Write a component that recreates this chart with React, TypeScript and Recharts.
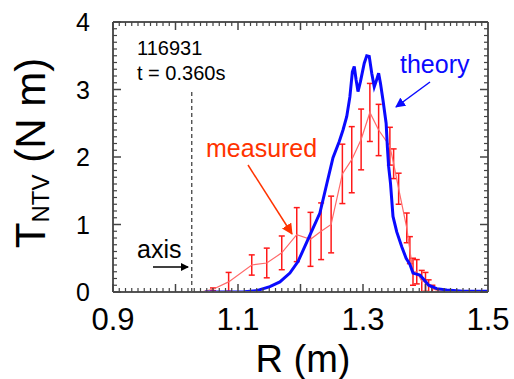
import { ErrorBar, Line, LineChart, ReferenceLine, XAxis, YAxis } from "recharts";

// theory NTV torque profile
const THEORY_R = [
  1.047, 1.08, 1.11, 1.13, 1.151, 1.167, 1.183, 1.196, 1.212, 1.231, 1.242, 1.252, 1.262, 1.268,
  1.274, 1.279, 1.283, 1.286, 1.289, 1.292, 1.296, 1.302, 1.306, 1.31, 1.314, 1.318, 1.321, 1.325,
  1.328, 1.332, 1.337, 1.339, 1.341, 1.344, 1.348, 1.354, 1.362, 1.369, 1.375, 1.38, 1.391, 1.396,
  1.405, 1.418, 1.434, 1.46, 1.5,
];
const THEORY_T = [
  0, 0, 0.005, 0.02, 0.08, 0.15, 0.28, 0.45, 0.78, 1.17, 1.6, 1.99, 2.23, 2.4,
  2.6, 2.89, 3.26, 3.34, 3.14, 2.97, 3.12, 3.39, 3.5, 3.49, 3.24, 3.04, 3.12, 3.24,
  3.09, 2.84, 2.5, 2.15, 1.86, 1.61, 1.12, 0.89, 0.67, 0.5, 0.41, 0.28, 0.25, 0.2,
  0.1, 0.05, 0.03, 0.01, 0.01,
];

// measured profile with error bars
const MEAS_R = [
  1.04, 1.06, 1.085, 1.122, 1.146, 1.17, 1.194, 1.216, 1.233, 1.249, 1.267, 1.282, 1.297, 1.311,
  1.325, 1.343, 1.349, 1.357, 1.37, 1.375, 1.38, 1.386, 1.394, 1.4, 1.405, 1.411, 1.42, 1.44,
];
const MEAS_T = [
  0, 0.04, 0.15, 0.4, 0.43, 0.58, 0.85, 0.78, 0.9, 1.0, 1.75, 1.96, 2.26, 2.66,
  2.4, 2.16, 1.9, 1.53, 0.95, 0.62, 0.3, 0.3, 0.16, 0.15, 0.09, 0.05, 0.02, 0,
];
const MEAS_ERR = [
  0, 0.02, 0.14, 0.15, 0.22, 0.25, 0.4, 0.4, 0.42, 0.42, 0.44, 0.49, 0.45, 0.43,
  0.38, 0.28, 0.22, 0.23, 0.22, 0.2, 0.2, 0.18, 0.16, 0.14, 0.09, 0.05, 0.02, 0,
];

const MAG_AXIS_R = 1.026;
const X_MAJOR = [0.9, 1.0, 1.1, 1.2, 1.3, 1.4, 1.5];
const X_LABELS = ["0.9", "1.1", "1.3", "1.5"];
const Y_MAJOR = [0, 1, 2, 3, 4];
const X_MINOR_PER = 10;
const Y_MINOR_PER = 10;

const theory = THEORY_R.map((r, i) => ({ r, t: THEORY_T[i] }));
const measured = MEAS_R.map((r, i) => ({ r, t: MEAS_T[i], err: MEAS_ERR[i] }));

const FONT = "'Liberation Sans', Arial, sans-serif";
const FRAME = "#555";
const TICK = "#444";
const MARGIN = { top: 22, right: 26, bottom: 47, left: 53 };
const Y_AXIS_W = 60;
const X_AXIS_H = 40;
const PLOT_W = 514 - MARGIN.left - MARGIN.right - Y_AXIS_W;
const PLOT_H = 379 - MARGIN.top - MARGIN.bottom - X_AXIS_H;

// bottom axis tick: major + minor ticks, mirrored on the top frame
const XTick = (p: any) => {
  const { x, y, payload, index } = p;
  const step = PLOT_W / (X_MAJOR.length - 1) / X_MINOR_PER;
  const top = y - PLOT_H;
  const v = Number(payload.value).toFixed(1);
  const minors = [];
  if (index < X_MAJOR.length - 1) {
    for (let k = 1; k < X_MINOR_PER; k++) {
      const xx = x + k * step;
      minors.push(<line key={"b" + k} x1={xx} y1={y} x2={xx} y2={y - 4} stroke={TICK} strokeWidth={1.2} />);
      minors.push(<line key={"t" + k} x1={xx} y1={top} x2={xx} y2={top + 4} stroke={TICK} strokeWidth={1.2} />);
    }
  }
  return (
    <g>
      {index === 0 && <line x1={x} y1={top} x2={x + PLOT_W} y2={top} stroke={FRAME} strokeWidth={2} />}
      <line x1={x} y1={y} x2={x} y2={y - 8} stroke={TICK} strokeWidth={1.5} />
      <line x1={x} y1={top} x2={x} y2={top + 8} stroke={TICK} strokeWidth={1.5} />
      {minors}
      {X_LABELS.includes(v) && (
        <text x={x} y={y + 38} textAnchor="middle" fontSize={31} fontFamily={FONT} fill="#000">{v}</text>
      )}
    </g>
  );
};

// left axis tick: major + minor ticks, mirrored on the right frame
const YTick = (p: any) => {
  const { x, y, payload, index } = p;
  const step = PLOT_H / (Y_MAJOR.length - 1) / Y_MINOR_PER;
  const right = x + PLOT_W;
  const minors = [];
  if (index < Y_MAJOR.length - 1) {
    for (let k = 1; k < Y_MINOR_PER; k++) {
      const yy = y - k * step;
      minors.push(<line key={"l" + k} x1={x} y1={yy} x2={x + 4} y2={yy} stroke={TICK} strokeWidth={1.2} />);
      minors.push(<line key={"r" + k} x1={right} y1={yy} x2={right - 4} y2={yy} stroke={TICK} strokeWidth={1.2} />);
    }
  }
  return (
    <g>
      {index === 0 && <line x1={right} y1={y} x2={right} y2={y - PLOT_H} stroke={FRAME} strokeWidth={2} />}
      <line x1={x} y1={y} x2={x + 8} y2={y} stroke={TICK} strokeWidth={1.5} />
      <line x1={right} y1={y} x2={right - 8} y2={y} stroke={TICK} strokeWidth={1.5} />
      {minors}
      <text x={x - 23} y={y + 9} textAnchor="end" fontSize={25} fontFamily={FONT} fill="#000">
        {String(payload.value)}
      </text>
    </g>
  );
};

export default function App() {
  return (
    <div style={{ position: "absolute", left: 0, top: 0, width: 514, height: 379 }}>
      <LineChart width={514} height={379} margin={MARGIN}>
        <XAxis xAxisId="x" type="number" dataKey="r" domain={[0.9, 1.5]} ticks={X_MAJOR} interval={0}
          height={X_AXIS_H} tickSize={0} tickMargin={0} tickLine={false}
          axisLine={{ stroke: FRAME, strokeWidth: 2 }} tick={XTick} allowDataOverflow />
        <YAxis yAxisId="y" type="number" domain={[0, 4]} ticks={Y_MAJOR} interval={0} width={Y_AXIS_W}
          tickSize={0} tickMargin={0} tickLine={false}
          axisLine={{ stroke: FRAME, strokeWidth: 2 }} tick={YTick} allowDataOverflow />

        <ReferenceLine xAxisId="x" yAxisId="y" segment={[{ x: MAG_AXIS_R, y: 0 }, { x: MAG_AXIS_R, y: 3 }]}
          stroke="#444" strokeWidth={1.3} strokeDasharray="4 3" />

        <Line xAxisId="x" yAxisId="y" data={measured} dataKey="t" type="linear" dot={false}
          stroke="#ff6a6a" strokeWidth={1.2} isAnimationActive={false}>
          <ErrorBar dataKey="err" direction="y" width={3} stroke="#ff1a1a" strokeWidth={1.5} />
        </Line>
        <Line xAxisId="x" yAxisId="y" data={theory} dataKey="t" type="linear" dot={false}
          stroke="#0a0aff" strokeWidth={3} isAnimationActive={false} />
      </LineChart>

      <svg width={514} height={379} style={{ position: "absolute", left: 0, top: 0, pointerEvents: "none" }}
        fontFamily={FONT}>
        <defs>
          <marker id="ahBlack" markerWidth="8" markerHeight="8" refX="7" refY="4" orient="auto" markerUnits="userSpaceOnUse">
            <path d="M0,0 L8,4 L0,8 z" fill="#000" />
          </marker>
          <marker id="ahBlue" markerWidth="10" markerHeight="10" refX="9" refY="5" orient="auto" markerUnits="userSpaceOnUse">
            <path d="M0,0 L10,5 L0,10 z" fill="#0a0aff" />
          </marker>
          <marker id="ahRed" markerWidth="11" markerHeight="11" refX="10" refY="5.5" orient="auto" markerUnits="userSpaceOnUse">
            <path d="M0,0 L11,5.5 L0,11 z" fill="#ff3300" />
          </marker>
        </defs>

        <text transform="translate(45,153) rotate(-90)" textAnchor="middle" fontSize={42} fill="#000">
          T<tspan fontSize={24} dy={4}>NTV</tspan>
          <tspan dy={-4}> (N m)</tspan>
        </text>
        <text x={303} y={372} textAnchor="middle" fontSize={38} fill="#000">R (m)</text>

        <text x={137} y={55} fontSize={20} fill="#000">116931</text>
        <text x={137} y={80} fontSize={20} fill="#000">t = 0.360s</text>

        <text x={400} y={73} fontSize={25} fill="#0a0aff">theory</text>
        <line x1={430} y1={82} x2={396} y2={107} stroke="#0a0aff" strokeWidth={1.5} markerEnd="url(#ahBlue)" />

        <text x={206} y={157} fontSize={25} fill="#ff3300">measured</text>
        <line x1={248} y1={165} x2={292} y2={234} stroke="#ff3300" strokeWidth={1.5} markerEnd="url(#ahRed)" />

        <text x={137} y={258} fontSize={25} fill="#000">axis</text>
        <line x1={153} y1={267} x2={188} y2={267} stroke="#000" strokeWidth={1.5} markerEnd="url(#ahBlack)" />
      </svg>
    </div>
  );
}
